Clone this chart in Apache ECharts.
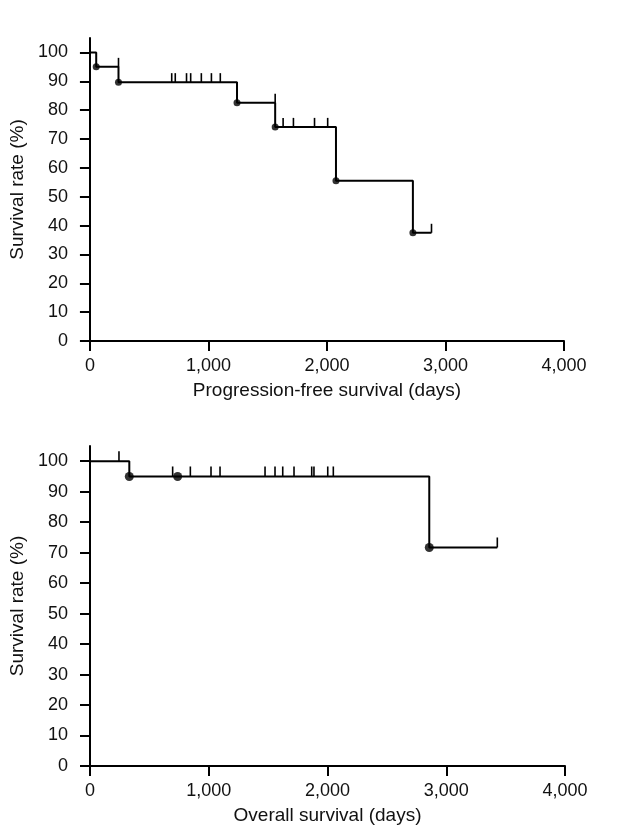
<!DOCTYPE html>
<html>
<head>
<meta charset="utf-8">
<script src="https://cdn.jsdelivr.net/npm/echarts@6/dist/echarts.min.js"></script>
<style>html,body{margin:0;padding:0;background:#fff}#c{width:627px;height:830px}</style>
</head>
<body>
<div id="c"></div>
<script>
// ---- Data ----
const yTicks = [0, 10, 20, 30, 40, 50, 60, 70, 80, 90, 100];
const xTicks = [0, 1000, 2000, 3000, 4000];
const yName = 'Survival rate (%)';
const pfsName = 'Progression-free survival (days)';
const osName = 'Overall survival (days)';

// Progression-free survival step curve
const pfsTimes = [0, 53, 241, 1241, 1563, 2076, 2725, 2882];
const pfsSurv  = [100, 95, 89.7, 82.6, 74.2, 55.5, 37.5, 37.5];
// events (dots)
const pfsEventTimes = [53, 241, 1241, 1563, 2076, 2725];
const pfsEventSurv  = [95, 89.7, 82.6, 74.2, 55.5, 37.5];
// censored (ticks)
const pfsCensorTimes = [241, 690, 720, 815, 850, 940, 1025, 1100, 1563, 1630, 1717, 1895, 2006, 2882];
const pfsCensorSurv  = [95, 89.7, 89.7, 89.7, 89.7, 89.7, 89.7, 89.7, 82.6, 74.2, 74.2, 74.2, 74.2, 37.5];

// Overall survival step curve
const osTimes = [0, 331, 2857, 3430];
const osSurv  = [100, 95, 71.7, 71.7];
const osEventTimes = [331, 738, 2857];
const osEventSurv  = [95, 95, 71.7];
const osCensorTimes = [244, 696, 845, 1019, 1095, 1474, 1558, 1623, 1718, 1867, 1886, 2002, 2049, 3430];
const osCensorSurv  = [100, 95, 95, 95, 95, 95, 95, 95, 95, 95, 95, 95, 95, 71.7];

// ---- Chart ----
const zip = (a, b) => a.map((v, i) => [v, b[i]]);
const fmt = v => String(v).replace(/\B(?=(\d{3})+(?!\d))/g, ',');
const FONT = '"Liberation Sans", Arial, Helvetica, sans-serif';

function xAxis(gi, name) {
  return {
    type: 'value', gridIndex: gi, min: 0, max: 4000, interval: 1000,
    name: name, nameLocation: 'middle', nameGap: 40,
    nameTextStyle: { fontFamily: FONT, fontSize: 19, color: '#111' },
    axisLine: { show: true, onZero: false, lineStyle: { color: '#000', width: 2 } },
    axisTick: { show: true, inside: false, length: 10, lineStyle: { color: '#000', width: 2 } },
    axisLabel: { margin: 16, fontFamily: FONT, fontSize: 18, color: '#111', formatter: fmt },
    splitLine: { show: false }
  };
}
function yAxis(gi) {
  return {
    type: 'value', gridIndex: gi, min: 0, max: 105,
    name: yName, nameLocation: 'middle', nameRotate: 90, nameGap: 50,
    nameTextStyle: { fontFamily: FONT, fontSize: 19, color: '#111' },
    axisLine: { show: true, onZero: false, lineStyle: { color: '#000', width: 2 } },
    axisTick: { show: true, inside: false, length: 10, customValues: yTicks, lineStyle: { color: '#000', width: 2 } },
    axisLabel: { margin: 22, fontFamily: FONT, fontSize: 18, color: '#111', customValues: yTicks },
    splitLine: { show: false }
  };
}
function censorSeries(gi, times, surv, h) {
  return {
    type: 'custom', xAxisIndex: gi, yAxisIndex: gi, silent: true,
    data: zip(times, surv),
    renderItem: (params, api) => {
      const p = api.coord([api.value(0), api.value(1)]);
      return { type: 'line', shape: { x1: p[0], y1: p[1], x2: p[0], y2: p[1] - h },
               style: { stroke: '#000', lineWidth: 1.6 } };
    }
  };
}
function curveSeries(gi, times, surv) {
  return { type: 'line', xAxisIndex: gi, yAxisIndex: gi, step: 'end', symbol: 'none',
           data: zip(times, surv), lineStyle: { color: '#000', width: 2 }, silent: true, z: 3 };
}
function dotSeries(gi, times, surv, size) {
  return { type: 'scatter', xAxisIndex: gi, yAxisIndex: gi, symbol: 'circle', symbolSize: size,
           data: zip(times, surv), itemStyle: { color: '#000' }, silent: true, z: 4 };
}

const chart = echarts.init(document.getElementById('c'), null, { renderer: 'canvas' });
chart.setOption({
  backgroundColor: '#fff',
  animation: false,
  grid: [
    { left: 88, right: 63, top: 38, height: 303 },
    { left: 90, right: 62, top: 446, height: 320 }
  ],
  xAxis: [xAxis(0, pfsName), xAxis(1, osName)],
  yAxis: [yAxis(0), yAxis(1)],
  series: [
    curveSeries(0, pfsTimes, pfsSurv),
    dotSeries(0, pfsEventTimes, pfsEventSurv, 7),
    censorSeries(0, pfsCensorTimes, pfsCensorSurv, 9),
    curveSeries(1, osTimes, osSurv),
    dotSeries(1, osEventTimes, osEventSurv, 9),
    censorSeries(1, osCensorTimes, osCensorSurv, 10)
  ]
});
</script>
</body>
</html>
